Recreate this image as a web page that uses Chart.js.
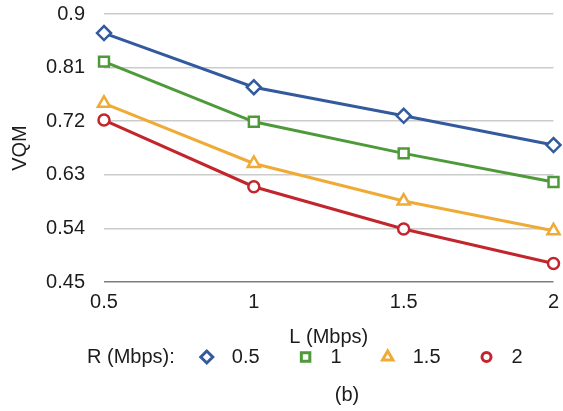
<!DOCTYPE html>
<html>
<head>
<meta charset="utf-8">
<script src="https://cdn.jsdelivr.net/npm/chart.js@4/dist/chart.umd.min.js"></script>
<style>
  html, body { margin: 0; padding: 0; background: #fff; }
  #wrap { width: 563px; height: 411px; position: relative; }
</style>
</head>
<body>
<div id="wrap"><canvas id="vqm"></canvas></div>
<script>
// L (Mbps) on the x axis, one line per R (Mbps)
const lValues = ['0.5', '1', '1.5', '2'];
const yTicks = [0.45, 0.54, 0.63, 0.72, 0.81, 0.9];

const rLabels = ['0.5', '1', '1.5', '2'];
const vqmR05 = [0.868, 0.777, 0.729, 0.680];
const vqmR1 = [0.820, 0.719, 0.666, 0.618];
const vqmR15 = [0.750, 0.649, 0.586, 0.536];
const vqmR2 = [0.722, 0.610, 0.539, 0.481];

const FONT = 'Liberation Sans, Arial, Helvetica, sans-serif';
const FONT_SIZE = 20;
const TEXT = '#1c1c1c';

const seriesStyle = [
    { color: '#345a9e', point: 'rectRot', radius: 7 },
    { color: '#4e9a3b', point: 'rect', radius: 7 },
    { color: '#f0aa36', point: 'triangle', radius: 7 },
    { color: '#c2262c', point: 'circle', radius: 5.5 }
];

function makeDataset(label, data, style) {
    return {
        label: label,
        data: data,
        borderColor: style.color,
        backgroundColor: '#ffffff',
        borderWidth: 3,
        pointStyle: style.point,
        pointRadius: style.radius,
        pointBorderWidth: 2.5,
        pointBackgroundColor: '#ffffff',
        pointBorderColor: style.color,
        tension: 0
    };
}

// "R (Mbps):" legend row and the "(b)" caption under the axis title
const bottomText = {
    id: 'bottomText',
    afterDraw(chart) {
        const ctx = chart.ctx;
        ctx.save();
        ctx.font = FONT_SIZE + 'px ' + FONT;
        ctx.fillStyle = TEXT;
        ctx.textBaseline = 'middle';
        ctx.textAlign = 'left';

        const rowY = 357;
        let x = 87;
        const head = 'R (Mbps):';
        ctx.fillText(head, x, rowY);
        x += ctx.measureText(head).width + 32;

        chart.data.datasets.forEach((ds, i) => {
            const st = seriesStyle[i];
            ctx.strokeStyle = st.color;
            ctx.fillStyle = '#ffffff';
            ctx.lineWidth = 3;
            Chart.helpers.drawPoint(ctx, {
                pointStyle: st.point,
                radius: st.radius - 1,
                rotation: 0,
                borderWidth: 3
            }, x, rowY);
            ctx.fillStyle = TEXT;
            ctx.fillText(ds.label, x + 25, rowY);
            x += 25 + ctx.measureText(ds.label).width + 46;
        });

        ctx.textAlign = 'center';
        ctx.fillText('(b)', 347, 395);
        ctx.restore();
    }
};

new Chart(document.getElementById('vqm'), {
    type: 'line',
    data: {
        labels: lValues,
        datasets: [
            makeDataset(rLabels[0], vqmR05, seriesStyle[0]),
            makeDataset(rLabels[1], vqmR1, seriesStyle[1]),
            makeDataset(rLabels[2], vqmR15, seriesStyle[2]),
            makeDataset(rLabels[3], vqmR2, seriesStyle[3])
        ]
    },
    options: {
        responsive: true,
        maintainAspectRatio: false,
        animation: false,
        layout: { padding: { top: 14, right: 6, bottom: 60, left: 0 } },
        plugins: {
            legend: { display: false },
            tooltip: { enabled: false }
        },
        scales: {
            x: {
                type: 'category',
                offset: false,
                grid: { display: false, drawTicks: false },
                border: { display: false },
                ticks: {
                    color: TEXT,
                    padding: 8,
                    maxRotation: 0,
                    font: { family: FONT, size: FONT_SIZE }
                },
                title: {
                    display: true,
                    text: 'L (Mbps)',
                    color: TEXT,
                    padding: { top: 0, bottom: 2 },
                    font: { family: FONT, size: FONT_SIZE }
                },
                afterFit(scale) {
                    scale.height = 69;
                    scale.paddingLeft = 0;
                    scale.paddingRight = 0;
                }
            },
            y: {
                min: 0.45,
                max: 0.9,
                border: { display: false },
                grid: {
                    drawTicks: false,
                    lineWidth: 1.5,
                    color: (c) => c.index === 0 ? '#7d7d7d' : '#cbcbcb'
                },
                ticks: {
                    color: TEXT,
                    padding: 19,
                    font: { family: FONT, size: FONT_SIZE },
                    callback: (v) => String(+Number(v).toFixed(2))
                },
                afterBuildTicks(scale) {
                    scale.ticks = yTicks.map(v => ({ value: v }));
                },
                title: {
                    display: true,
                    text: 'VQM',
                    color: TEXT,
                    padding: { top: 8, bottom: 0 },
                    font: { family: FONT, size: FONT_SIZE }
                },
                afterFit(scale) {
                    scale.width = 104;
                    scale.paddingTop = 0;
                    scale.paddingBottom = 0;
                }
            }
        }
    },
    plugins: [bottomText]
});
</script>
</body>
</html>
